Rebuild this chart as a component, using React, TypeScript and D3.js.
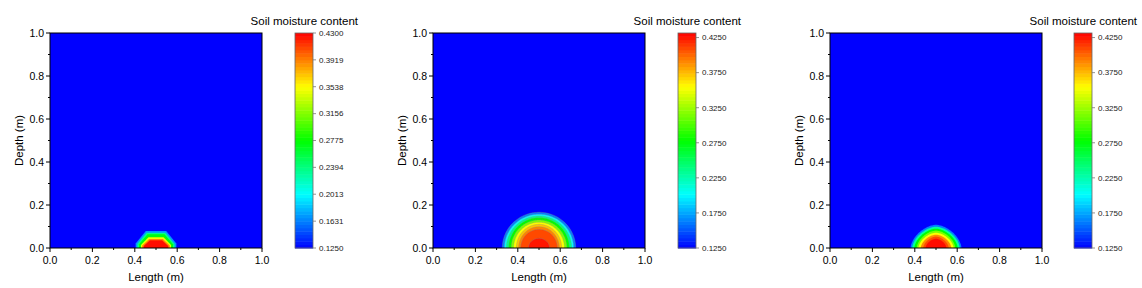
import React from 'react';
import * as d3 from 'd3';

// ---------- data ----------
const LENGTH_TICKS = [0, 0.2, 0.4, 0.6, 0.8, 1.0];
const DEPTH_TICKS = [0, 0.2, 0.4, 0.6, 0.8, 1.0];
const MINOR_TICKS = [0.1, 0.3, 0.5, 0.7, 0.9];

const CB_TICKS_1 = [0.125, 0.1631, 0.2013, 0.2394, 0.2775, 0.3156, 0.3538, 0.3919, 0.43];
const CB_TICKS_23 = [0.125, 0.175, 0.225, 0.275, 0.325, 0.375, 0.425];
const CB_DOMAIN_1 = [0.125, 0.43];
const CB_DOMAIN_23 = [0.125, 0.4315];

const SOURCE_X = 0.5;

// wetting bulb bands, outer -> inner: moisture value, half width (m), height (m)
const P1_VALUES = [0.17, 0.235, 0.275, 0.35, 0.39, 0.425];
const P1_RX = [0.096, 0.088, 0.08, 0.071, 0.065, 0.058];
const P1_RY = [0.079, 0.071, 0.064, 0.05, 0.042, 0.036];

const P2_VALUES = [0.163, 0.201, 0.239, 0.2775, 0.316, 0.354, 0.373, 0.392, 0.41, 0.425];
const P2_RX = [0.173, 0.163, 0.154, 0.143, 0.131, 0.12, 0.107, 0.096, 0.087, 0.05];
const P2_RY = [0.166, 0.157, 0.149, 0.141, 0.13, 0.12, 0.11, 0.099, 0.087, 0.045];

const P3_VALUES = [0.163, 0.23, 0.2775, 0.315, 0.354, 0.39, 0.41, 0.428];
const P3_RX = [0.12, 0.112, 0.102, 0.091, 0.083, 0.072, 0.06, 0.049];
const P3_RY = [0.108, 0.099, 0.09, 0.081, 0.071, 0.062, 0.053, 0.043];

const COLOR_STOPS = ['#0000ff', '#00ffff', '#00ff00', '#ffff00', '#ff0000'];
const TITLE = 'Soil moisture content';
const X_TITLE = 'Length (m)';
const Y_TITLE = 'Depth (m)';

// ---------- layout ----------
const W = 1142;
const H = 288;
const PLOT_TOP = 33;
const PLOT_BOTTOM = 248;
const PLOT_W = 212;
const CB_W = 18;
const FONT = "'Liberation Sans', Arial, Helvetica, sans-serif";

type Band = { value: number; rx: number; ry: number };
type PanelCfg = {
  x0: number;
  cbX: number;
  cbDomain: number[];
  cbTicks: number[];
  bands: Band[];
  shape: 'octagon' | 'super';
  n: number;
  lines: boolean;
};

const mkBands = (v: number[], rx: number[], ry: number[]): Band[] =>
  v.map((value, i) => ({ value, rx: rx[i], ry: ry[i] }));

const PANELS: PanelCfg[] = [
  { x0: 50, cbX: 295, cbDomain: CB_DOMAIN_1, cbTicks: CB_TICKS_1, bands: mkBands(P1_VALUES, P1_RX, P1_RY), shape: 'octagon', n: 2, lines: false },
  { x0: 433, cbX: 678, cbDomain: CB_DOMAIN_23, cbTicks: CB_TICKS_23, bands: mkBands(P2_VALUES, P2_RX, P2_RY), shape: 'super', n: 2, lines: true },
  { x0: 830, cbX: 1074, cbDomain: CB_DOMAIN_23, cbTicks: CB_TICKS_23, bands: mkBands(P3_VALUES, P3_RX, P3_RY), shape: 'super', n: 1.7, lines: false },
];

const rainbow = d3
  .scaleLinear<string>()
  .domain([0, 0.25, 0.5, 0.75, 1])
  .range(COLOR_STOPS)
  .interpolate(d3.interpolateRgb)
  .clamp(true);

function bandPoints(b: Band, shape: string, n: number): [number, number][] {
  const pts: [number, number][] = [];
  pts.push([SOURCE_X - b.rx, -0.03]);
  if (shape === 'octagon') {
    const a = 0.27;
    const c = 0.5;
    pts.push([SOURCE_X - b.rx, 0]);
    pts.push([SOURCE_X - b.rx, a * b.ry]);
    pts.push([SOURCE_X - c * b.rx, b.ry]);
    pts.push([SOURCE_X + c * b.rx, b.ry]);
    pts.push([SOURCE_X + b.rx, a * b.ry]);
    pts.push([SOURCE_X + b.rx, 0]);
  } else {
    const e = 2 / n;
    const N = 90;
    for (let i = 0; i <= N; i++) {
      const t = Math.PI - (Math.PI * i) / N;
      const c = Math.cos(t);
      const s = Math.sin(t);
      const x = SOURCE_X + b.rx * Math.sign(c) * Math.pow(Math.abs(c), e);
      const y = b.ry * Math.pow(Math.max(0, s), e);
      pts.push([x, y]);
    }
  }
  pts.push([SOURCE_X + b.rx, -0.03]);
  return pts;
}

function Panel({ cfg, idx }: { cfg: PanelCfg; idx: number }) {
  const x = d3.scaleLinear().domain([0, 1]).range([cfg.x0, cfg.x0 + PLOT_W]);
  const y = d3.scaleLinear().domain([0, 1]).range([PLOT_BOTTOM, PLOT_TOP]);
  const cbY = d3.scaleLinear().domain(cfg.cbDomain).range([PLOT_BOTTOM, PLOT_TOP]);
  const norm = d3.scaleLinear().domain(cfg.cbDomain).range([0, 1]);
  const color = (v: number) => rainbow(norm(v));
  const line = d3
    .line<[number, number]>()
    .x((d) => x(d[0]))
    .y((d) => y(d[1]))
    .curve(cfg.shape === 'octagon' ? d3.curveLinear : d3.curveLinear);

  const levels = 64;
  const [lo, hi] = cfg.cbDomain;
  const step = (hi - lo) / levels;
  const cbSteps = d3.range(levels).map((i) => lo + i * step);

  const clipId = `clip-${idx}`;
  const blurId = `blur-${idx}`;
  const xMid = cfg.x0 + PLOT_W / 2;
  const yMid = (PLOT_TOP + PLOT_BOTTOM) / 2;

  return (
    <g>
      <defs>
        <clipPath id={clipId}>
          <rect x={x(0)} y={y(1)} width={x(1) - x(0)} height={y(0) - y(1)} />
        </clipPath>
        <filter id={blurId} x="-20%" y="-20%" width="140%" height="140%">
          <feGaussianBlur stdDeviation={0.55} />
        </filter>
      </defs>
      {/* field */}
      <rect x={x(0)} y={y(1)} width={x(1) - x(0)} height={y(0) - y(1)} fill={color(lo)} />
      <g clipPath={`url(#${clipId})`}>
        <g filter={`url(#${blurId})`}>
          {cfg.bands.map((b, i) => (
            <path
              key={i}
              d={line(bandPoints(b, cfg.shape, cfg.n)) || ''}
              fill={color(b.value)}
              stroke={cfg.lines ? '#8a8a8a' : 'none'}
              strokeWidth={cfg.lines ? 0.5 : 0}
              strokeOpacity={0.7}
            />
          ))}
        </g>
      </g>
      {/* frame */}
      <rect
        x={x(0)}
        y={y(1)}
        width={x(1) - x(0)}
        height={y(0) - y(1)}
        fill="none"
        stroke="#000"
        strokeWidth={1}
      />
      {/* x axis ticks */}
      {LENGTH_TICKS.map((t) => (
        <g key={`xt${t}`}>
          <line x1={x(t)} x2={x(t)} y1={y(0)} y2={y(0) + 4} stroke="#000" strokeWidth={1} />
          <text
            x={x(t)}
            y={y(0) + 16}
            textAnchor="middle"
            fontSize={10.5}
            fontFamily={FONT}
            fill="#000"
          >
            {t.toFixed(1)}
          </text>
        </g>
      ))}
      {MINOR_TICKS.map((t) => (
        <line key={`xm${t}`} x1={x(t)} x2={x(t)} y1={y(0)} y2={y(0) + 2} stroke="#000" strokeWidth={1} />
      ))}
      {/* y axis ticks */}
      {DEPTH_TICKS.map((t) => (
        <g key={`yt${t}`}>
          <line x1={x(0) - 4} x2={x(0)} y1={y(t)} y2={y(t)} stroke="#000" strokeWidth={1} />
          <text
            x={x(0) - 6}
            y={y(t)}
            dy="0.35em"
            textAnchor="end"
            fontSize={10.5}
            fontFamily={FONT}
            fill="#000"
          >
            {t.toFixed(1)}
          </text>
        </g>
      ))}
      {MINOR_TICKS.map((t) => (
        <line key={`ym${t}`} x1={x(0) - 2} x2={x(0)} y1={y(t)} y2={y(t)} stroke="#000" strokeWidth={1} />
      ))}
      {/* axis titles */}
      <text x={xMid} y={281} textAnchor="middle" fontSize={11.5} fontFamily={FONT} fill="#000">
        {X_TITLE}
      </text>
      <text
        transform={`translate(${cfg.x0 - 27},${yMid}) rotate(-90)`}
        textAnchor="middle"
        fontSize={11.5}
        fontFamily={FONT}
        fill="#000"
      >
        {Y_TITLE}
      </text>
      {/* colour bar */}
      {cbSteps.map((v, i) => (
        <rect
          key={`cb${i}`}
          x={cfg.cbX}
          y={cbY(v + step)}
          width={CB_W}
          height={cbY(v) - cbY(v + step) + 0.5}
          fill={color(v + step / 2)}
        />
      ))}
      <rect
        x={cfg.cbX}
        y={PLOT_TOP}
        width={CB_W}
        height={PLOT_BOTTOM - PLOT_TOP}
        fill="none"
        stroke="#666"
        strokeWidth={0.8}
      />
      {cfg.cbTicks.map((t) => (
        <g key={`cbt${t}`}>
          <line
            x1={cfg.cbX + CB_W}
            x2={cfg.cbX + CB_W + 3}
            y1={cbY(t)}
            y2={cbY(t)}
            stroke="#777"
            strokeWidth={0.8}
          />
          <text
            x={cfg.cbX + CB_W + 6}
            y={cbY(t)}
            dy="0.35em"
            fontSize={8}
            fontFamily={FONT}
            fill="#222"
          >
            {t.toFixed(4)}
          </text>
        </g>
      ))}
      <text
        x={cfg.cbX + 63}
        y={25}
        textAnchor="end"
        fontSize={11.5}
        fontFamily={FONT}
        fill="#000"
      >
        {TITLE}
      </text>
    </g>
  );
}

export default function App() {
  return (
    <svg
      width={W}
      height={H}
      viewBox={`0 0 ${W} ${H}`}
      style={{ position: 'absolute', left: 0, top: 0, background: '#fff' }}
    >
      <rect x={0} y={0} width={W} height={H} fill="#fff" />
      {PANELS.map((p, i) => (
        <Panel key={i} cfg={p} idx={i} />
      ))}
    </svg>
  );
}
